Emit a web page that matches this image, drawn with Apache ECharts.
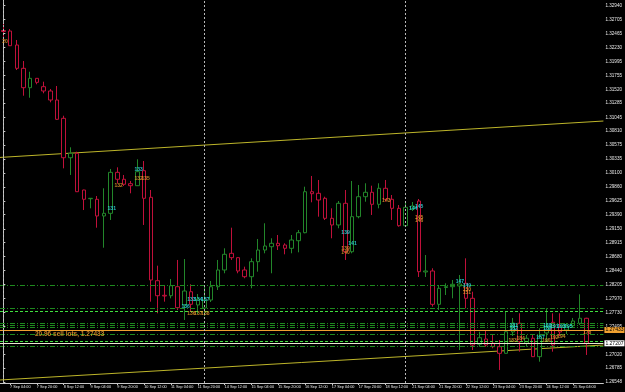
<!DOCTYPE html>
<html><head><meta charset="utf-8">
<script src="https://cdn.jsdelivr.net/npm/echarts@6/dist/echarts.min.js"></script>
<style>html,body{margin:0;padding:0;background:#000;}#c{width:625px;height:392px;}</style>
</head><body><div id="c"></div>
<script>
// H4 bars, three trading weeks
const days = ['7 Sep','8 Sep','9 Sep','10 Sep','11 Sep','14 Sep','15 Sep','16 Sep','17 Sep','18 Sep','21 Sep','22 Sep','23 Sep','24 Sep','25 Sep'];
const hours = ['00:00','04:00','08:00','12:00','16:00','20:00'];

const opens = [1.32518,1.32509,1.32272,1.31876,1.31547,1.31706,1.31564,1.31491,1.31338,1.31027,
1.30358,1.30433,1.29810,1.29662,1.29652,1.29369,1.29414,1.30110,1.29992,1.29917,
1.29883,1.30138,1.29686,1.28270,1.28022,1.28015,1.28168,1.27858,1.28083,1.27858,
1.27807,1.27942,1.28168,1.28452,1.28735,1.28661,1.28452,1.28338,1.28593,1.28791,
1.28847,1.28905,1.28876,1.28820,1.28949,1.29085,1.29781,1.29754,1.29669,1.29329,
1.29216,1.29584,1.28762,1.29357,1.29696,1.29771,1.29567,1.29839,1.29652,1.29499,
1.29204,1.29487,1.29623,1.28418,1.28435,1.27869,1.28155,1.28168,1.28180,1.28226,
1.27971,1.27190,1.27280,1.27207,1.27149,1.27037,1.27399,1.27547,1.27207,1.27292,
1.26980,1.27382,1.27564,1.27484,1.27433,1.27506,1.27547,1.27632];
const closes = [1.32501,1.32260,1.31876,1.31547,1.31706,1.31638,1.31491,1.31338,1.31010,1.30358,
1.30433,1.29781,1.29652,1.29669,1.29369,1.29414,1.30110,1.29992,1.29907,1.29883,
1.30121,1.29669,1.28282,1.28015,1.28010,1.28185,1.27812,1.28095,1.27869,1.27959,
1.27942,1.28168,1.28452,1.28718,1.28661,1.28435,1.28338,1.28593,1.28791,1.28859,
1.28905,1.28864,1.28820,1.28961,1.29085,1.29781,1.29747,1.29640,1.29329,1.29216,
1.29584,1.28762,1.29357,1.29696,1.29771,1.29567,1.29839,1.29652,1.29499,1.29204,
1.29516,1.29538,1.28423,1.28435,1.27869,1.28141,1.28168,1.28209,1.28214,1.27971,
1.27178,1.27302,1.27178,1.27149,1.27037,1.27404,1.27552,1.27234,1.27292,1.26980,
1.27319,1.27484,1.27178,1.27399,1.27501,1.27586,1.27632,1.27207];
const highs = [1.32628,1.32543,1.32357,1.32000,1.31818,1.31710,1.31649,1.31525,1.31576,1.31071,
1.30535,1.30460,1.29815,1.29674,1.29708,1.29839,1.30167,1.30195,1.30065,1.29963,
1.30331,1.30302,1.29810,1.28525,1.28197,1.28299,1.28622,1.28638,1.28209,1.28044,
1.28163,1.28265,1.28622,1.28820,1.29170,1.28665,1.28508,1.28650,1.28978,1.29245,
1.28990,1.29046,1.28905,1.29046,1.29131,1.29866,1.30048,1.29980,1.29696,1.29499,
1.29623,1.29810,1.29963,1.29895,1.29924,1.29883,1.29924,1.29980,1.29725,1.29555,
1.29601,1.29606,1.29657,1.28706,1.28481,1.28197,1.28226,1.28282,1.28367,1.28650,
1.28083,1.27404,1.27433,1.27348,1.27263,1.27744,1.27637,1.27717,1.27348,1.27348,
1.27462,1.27801,1.27717,1.27717,1.27552,1.27637,1.28039,1.27640];
const lows = [1.32357,1.32255,1.31847,1.31411,1.31377,1.31605,1.31452,1.31299,1.30998,1.30178,
1.30065,1.29776,1.29470,1.29499,1.29170,1.28830,1.29301,1.29924,1.29878,1.29754,
1.29878,1.29216,1.27914,1.27717,1.27914,1.27971,1.27773,1.27603,1.27756,1.27705,
1.27671,1.27908,1.28112,1.28396,1.28622,1.28396,1.28311,1.28141,1.28423,1.28735,
1.28396,1.28791,1.28718,1.28735,1.28752,1.29075,1.29601,1.29357,1.29301,1.28990,
1.29160,1.28622,1.28735,1.29329,1.29611,1.29386,1.29499,1.29611,1.29301,1.29187,
1.29199,1.29453,1.28333,1.28333,1.27829,1.27773,1.28027,1.27971,1.27093,1.27801,
1.27093,1.27149,1.27149,1.27122,1.26754,1.27032,1.27331,1.27065,1.27149,1.26975,
1.26895,1.27229,1.27065,1.27331,1.27365,1.27484,1.27518,1.27009];

const priceTicks = [1.32940,1.32705,1.32465,1.32230,1.31995,1.31755,1.31520,1.31285,1.31045,1.30810,
1.30575,1.30335,1.30100,1.29860,1.29625,1.29390,1.29150,1.28915,1.28680,1.28440,1.28205,
1.27970,1.27730,1.27495,1.27020,1.26785,1.26548];

// horizontal levels (price, kind)
const levelPrices = [1.28185,1.27801,1.27759,1.27547,1.27509,1.27475,1.27362,1.27238,1.27153];
const levelKinds  = ['dd','dd','lime','dd','dd','dd','dd','lime','dd'];
const orderPrice = 1.27433;
const orderText = '20.96 sell lots, 1.27433';
const separators = [0, 30, 60];
const trendUpper = [[-0.5, 1.30363], [89.5, 1.30981]];
const trendLower = [[-0.5, 1.26584], [89.5, 1.27178]];

// trade annotations: bar position, price, text
const cyanX = [19.48,15.47,27.34,28.38,29.42,26.48,50.34,51.38,60.43,61.32,67.40,68.44,75.42,75.42,79.42,80.46,80.46,81.50,82.54,83.57];
const cyanY = [1.30150,1.29496,1.27942,1.27942,1.27942,1.27829,1.29080,1.28898,1.29492,1.29526,1.28256,1.28180,1.27509,1.27450,1.27306,1.27509,1.27450,1.27492,1.27492,1.27492];
const cyanT = ['133','131','133','134','137','136','139','141','144','145','147','149','181','182','187','188','189','191','193','195'];
const orangeX = [-0.25,19.48,20.52,16.51,27.34,28.38,29.42,50.34,50.34,56.42,61.32,61.32,68.44,68.44,75.27,76.45,80.31,81.50,82.54,86.39];
const orangeY = [1.32331,1.30005,1.30005,1.29878,1.27717,1.27717,1.27717,1.28808,1.28749,1.29623,1.29343,1.29292,1.28121,1.28070,1.27246,1.27280,1.27255,1.27306,1.27323,1.27387];
const orangeT = ['20','132','135','132','136','137','138','139','140','143','145','146','150','151','183','184','190','192','194','178'];

const categories = [];
days.forEach(d => hours.forEach(h => categories.push(d + ' ' + h)));
const candles = opens.map((o, i) => [o, closes[i], lows[i], highs[i]]);
const bid = closes[closes.length - 1];

const FONT = "'Liberation Sans', sans-serif";
const RED = '#c0103a', GREEN = '#22862a', ORANGE = '#f0a030', CYAN = '#30e8f0';
const isLabelBar = (i) => i % 4 === 1 && i < opens.length;

const lineStyles = {
  dd: {color: '#1e8a1e', type: [5, 2, 1, 2], width: 1},
  lime: {color: '#3fe03f', type: [3, 2], width: 1}
};
const markData = levelPrices.map((p, i) => ({yAxis: p, lineStyle: lineStyles[levelKinds[i]], label: {show: false}}));
markData.push({yAxis: orderPrice, lineStyle: {color: ORANGE, type: 'solid', width: 1},
  label: {show: true, position: 'end', distance: 1, formatter: orderPrice.toFixed(5), backgroundColor: ORANGE,
    color: '#000', fontSize: 5, fontFamily: FONT, padding: [1, 1, 0, 1]}});
markData.push({yAxis: bid, lineStyle: {color: '#e8e8d0', type: 'solid', width: 1},
  label: {show: true, position: 'end', distance: 1, formatter: bid.toFixed(5), backgroundColor: '#ffffff',
    color: '#000', fontSize: 5, fontFamily: FONT, padding: [1, 1, 0, 1]}});
separators.forEach(s => markData.push({xAxis: s, lineStyle: {color: '#b8b8b8', type: [2, 2], width: 1}, label: {show: false}}));

function annoSeries(xs, ys, ts, color) {
  return {
    type: 'scatter', xAxisIndex: 1, yAxisIndex: 0, silent: true, symbolSize: 1,
    itemStyle: {color: 'rgba(0,0,0,0)'},
    data: xs.map((x, i) => [x, ys[i], ts[i]]),
    label: {show: true, position: 'right', distance: 0, formatter: p => p.data[2], color: color,
      fontSize: 5, fontWeight: 'bold', fontFamily: FONT},
    z: 5
  };
}

const chart = echarts.init(document.getElementById('c'), null, {renderer: 'canvas'});
chart.setOption({
  animation: false,
  backgroundColor: '#000000',
  grid: {left: -1.67, right: 20.1, top: 0, bottom: 9, containLabel: false},
  xAxis: [{
    type: 'category', data: categories, boundaryGap: true, position: 'bottom',
    axisLine: {show: true, lineStyle: {color: '#c8c8c8', width: 1}},
    axisTick: {show: true, alignWithLabel: true, interval: isLabelBar, length: 2, lineStyle: {color: '#c8c8c8'}},
    axisLabel: {show: true, interval: 0, align: 'left', margin: 2, color: '#e8e8e8', fontSize: 3.8, fontFamily: FONT,
      formatter: (v, i) => isLabelBar(i) ? v : '',
      showMinLabel: true, showMaxLabel: true, hideOverlap: false},
    splitLine: {show: false}
  }, {
    type: 'value', min: -0.5, max: 89.5, show: false
  }],
  yAxis: [{
    type: 'value', position: 'right', min: 1.26533, max: 1.33036, scale: true,
    axisLine: {show: true, lineStyle: {color: '#c8c8c8', width: 1}},
    axisTick: {show: true, customValues: priceTicks, length: 2, lineStyle: {color: '#c8c8c8'}},
    axisLabel: {show: true, customValues: priceTicks, formatter: v => v.toFixed(5), margin: 2, color: '#e8e8e8', fontSize: 4.6, fontFamily: FONT},
    splitLine: {show: false}
  }],
  series: [
    {
      type: 'line', xAxisIndex: 1, yAxisIndex: 0, data: trendUpper, symbol: 'none', silent: true,
      lineStyle: {color: '#bdb52a', width: 1}, z: 1,
      markLine: {silent: true, symbol: 'none', precision: 6, animation: false, data: markData}
    },
    {
      type: 'line', xAxisIndex: 1, yAxisIndex: 0, data: trendLower, symbol: 'none', silent: true,
      lineStyle: {color: '#bdb52a', width: 1}, z: 1
    },
    {
      type: 'candlestick', xAxisIndex: 0, yAxisIndex: 0, data: candles, barWidth: 4, silent: true,
      itemStyle: {color: '#000', color0: '#000', borderColor: GREEN, borderColor0: RED, borderWidth: 1},
      z: 3
    },
    annoSeries(cyanX, cyanY, cyanT, CYAN),
    annoSeries(orangeX, orangeY, orangeT, ORANGE),
    {
      type: 'scatter', xAxisIndex: 1, yAxisIndex: 0, silent: true, symbolSize: 1,
      itemStyle: {color: 'rgba(0,0,0,0)'},
      data: [[4.64, 1.27365, orderText]],
      label: {show: true, position: 'right', distance: 0, formatter: p => p.data[2], color: ORANGE,
        fontSize: 6.5, fontWeight: 'bold', fontFamily: FONT},
      z: 5
    }
  ]
});
</script>
</body></html>
